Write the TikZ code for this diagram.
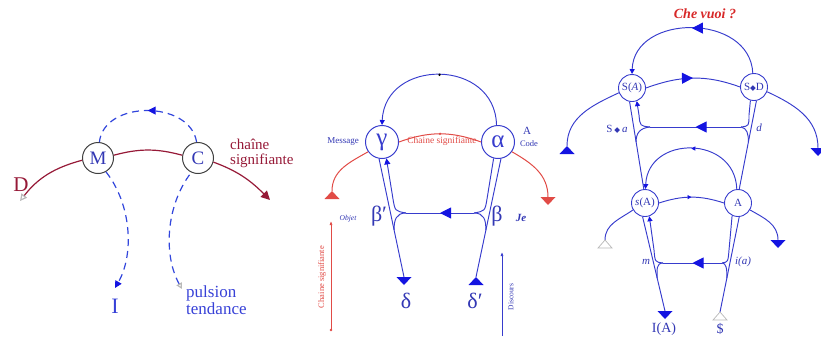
\documentclass[tikz,border=0pt]{standalone}
\usepackage{fontspec}
\setmainfont{Liberation Serif}
\newfontfamily\dejavu{DejaVu Sans}
\usetikzlibrary{arrows.meta,decorations.markings}
\definecolor{blu}{RGB}{55,60,205}
\definecolor{bluf}{RGB}{20,20,225}
\definecolor{btxt}{RGB}{50,55,180}
\definecolor{ptxt}{RGB}{55,65,215}
\definecolor{pblu}{RGB}{50,70,220}
\definecolor{dred}{RGB}{150,25,55}
\definecolor{lred}{RGB}{225,75,70}
\definecolor{cred}{RGB}{215,40,40}
\newcommand{\fs}[1]{\fontsize{#1}{#1}\selectfont}
\newcommand{\dmd}{{\dejavu\fontsize{7.5}{7.5}\selectfont ◆}}
\begin{document}
\begin{tikzpicture}[x=1pt,y=-1pt,
  c1/.style={circle,draw=black!75,line width=1pt,minimum size=31pt,inner sep=0pt,text=btxt,font=\fs{19}},
  c2/.style={circle,draw=blu,line width=1pt,minimum size=33pt,inner sep=0pt,text=blu,font=\fs{25}},
  c3/.style={circle,draw=blu,line width=0.9pt,minimum size=27pt,inner sep=0pt,text=btxt,font=\fs{11}},
  bl/.style={draw=blu,line width=0.95pt},
  pd/.style={draw=pblu,line width=1.2pt,dash pattern=on 7pt off 5pt},
  lbl/.style={text=btxt,inner sep=0pt},
  marr/.style={postaction={decorate},decoration={markings,mark=at position 0.5 with {\arrow{Triangle[length=#1,width=#1,color=bluf]}}}},
  dotm/.style={postaction={decorate},decoration={markings,mark=at position 0.5 with {\fill (0,0) circle (1.3pt);}}},
  dnTri/.pic={\fill (-7.5,0) -- (7.5,0) -- (0,8) -- cycle;},
  upTri/.pic={\fill (-7.5,8) -- (7.5,8) -- (0,0) -- cycle;},
  openUp/.pic={\filldraw[fill=white,draw=gray!55,line width=0.7pt] (-7,8) -- (7,8) -- (0,0) -- cycle;},
]
\useasboundingbox (0,0) rectangle (821,338);

% ---------------- Panel 1 ----------------
\node[c1] (M) at (98,158) {M};
\node[c1] (C) at (198,158) {C};
\coordinate (D0) at (20,201);
\coordinate (C1) at (270,200);
\coordinate (I0) at (115,288);
\coordinate (T0) at (182,289);
\draw[dred,line width=1.2pt,{Triangle[open,length=7pt,width=7pt,color=gray!55]}-] (D0) to[out=52,in=195] (M.188);
\draw[dred,line width=1.2pt] (M.10) to[out=15,in=165] (C.170);
\draw[dred,line width=1.2pt,-{Triangle[length=9pt,width=9pt]}] (C.-15) to[out=-20,in=135] (C1);
\draw[pd,marr=8pt] (C.95) .. controls (190,100) and (104,100) .. (M.85);
\draw[pd,-{Triangle[length=7pt,width=7pt,color=bluf]}] (M.-60) .. controls (132,205) and (134,255) .. (I0);
\draw[pd,{Triangle[open,length=6pt,width=6pt,color=gray!55]}-] (T0) .. controls (163,255) and (166,205) .. (C.-115);
\node[text=dred,font=\fs{21},inner sep=0pt] (Dl) at (21,185) {D};
\node[text=dred,font=\fs{15},align=left,anchor=north west,inner sep=0pt] (cs1) at (230,139) {\baselineskip=14pt chaîne\\signifiante};
\node[text=ptxt,font=\fs{22},inner sep=0pt] (Il) at (115,306) {I};
\node[text=ptxt,font=\fs{17},align=left,anchor=north west,inner sep=0pt] (pt) at (186,285) {\baselineskip=16pt pulsion\\tendance};

% ---------------- Panel 2 ----------------
\node[c2] (g) at (382,142) {γ};
\node[c2] (a) at (498,142) {α};
\draw[bl,dotm,-{Triangle[length=5pt,width=5pt,color=bluf]}] (a.95) .. controls (495,58) and (385,58) .. (g.90);
\draw[lred,line width=1pt,dotm] (g.east) to[out=20,in=160] (a.west);
\node[text=lred,font=\fs{9.5},inner sep=0pt] (cs2) at (442,141) {Chaine signifiante};
\draw[lred,line width=1pt] (g.215) to[out=210,in=90] (332,191);
\pic[fill=lred] at (332,191) {upTri};
\draw[lred,line width=1pt] (a.-35) to[out=-30,in=90] (548,197);
\pic[fill=lred] at (548,197) {dnTri};
\node[lbl,font=\fs{9}] (msg) at (343,142) {Message};
\node[lbl,font=\fs{11}] (Al) at (527,131) {A};
\node[lbl,font=\fs{8.5}] (code) at (529,144) {Code};
% vectors
\coordinate (dl) at (404,277);
\coordinate (dr) at (476,277);
\draw[bl] (g.-100) -- (dl);
\pic[fill=bluf] at (dl) {dnTri};
\draw[bl] (a.-80) -- (dr);
\pic[fill=bluf] at (dr) {upTri};
\draw[bl,marr=11pt] (474,213) -- (406,213);
\draw[bl,-{Triangle[length=6pt,width=6pt,color=bluf]}] (406,213) .. controls (395,211) .. (393,199) -- (g.-75);
\draw[bl] (406,213) .. controls (396,213) and (394,220) .. (394.1,230);
\draw[bl] (474,213) .. controls (485,211) .. (487,199) -- (a.-105);
\draw[bl] (474,213) .. controls (484,213) and (486,220) .. (485.8,230);
\node[lbl,font=\fs{22}] (bp) at (379,216) {β′};
\node[lbl,font=\fs{7.5}\itshape] (obj) at (348,219) {Objet};
\node[lbl,font=\fs{22}] (b) at (497,216) {β};
\node[lbl,font=\fs{11}\bfseries\itshape] (je) at (521,218) {Je};
\node[lbl,font=\fs{22}] (dlt) at (406,301) {δ};
\node[lbl,font=\fs{22}] (dltp) at (475,301) {δ′};
\coordinate (rb) at (331,330);
\coordinate (rt) at (331,221);
\draw[lred,line width=0.7pt,-{Latex[length=4pt,width=3pt]}] (rb) -- (rt);
\fill[lred] (rb) circle (1.3pt);
\node[rotate=90,text=lred,font=\fs{8.5},inner sep=0pt] (csv) at (322,277) {Chaine signifiante};
\coordinate (bb) at (502,336);
\coordinate (bt) at (502,252);
\draw[blu,line width=0.7pt,-{Latex[length=4pt,width=3pt]}] (bb) -- (bt);
\node[rotate=90,lbl,font=\fs{7.5}] (disc) at (511,297) {Discours};

% ---------------- Panel 3 ----------------
\node[c3] (SA) at (632,88) {S(\textit{A})};
\node[c3] (SD) at (754,87) {S\dmd D};
\node[c3] (sA) at (645,203) {\textit{s}(A)};
\node[c3] (A) at (738,203) {A};
\node[text=cred,font=\fs{14}\bfseries\itshape,inner sep=0pt] (che) at (705,14) {Che vuoi ?};
\draw[bl,marr=11pt,-{Triangle[length=5pt,width=5pt,color=bluf]}] (SD.95) .. controls (750,13) and (634,13) .. (SA.90);
\draw[bl,marr=11pt] (SA.east) to[out=20,in=160] (SD.west);
\draw[bl] (SA.200) to[out=205,in=90] (567,146);
\pic[fill=bluf] at (567,146) {upTri};
\draw[bl] (SD.-20) to[out=-25,in=90] (818,148);
\pic[fill=bluf] at (818,148) {dnTri};
\draw[bl,marr=4pt,-{Triangle[length=5pt,width=5pt,color=bluf]}] (A.95) .. controls (735,135) and (648,135) .. (sA.88);
\draw[bl,marr=4pt] (sA.east) to[out=18,in=162] (A.west);
\draw[bl] (sA.210) to[out=215,in=90] (605,240);
\pic at (605,240) {openUp};
\draw[bl] (A.-30) to[out=-30,in=90] (778,240);
\pic[fill=bluf] at (778,240) {dnTri};
% upper vectors
\draw[bl] (SA.-100) -- (sA.95);
\draw[bl] (SD.-80) -- (A.85);
\draw[bl,marr=11pt] (741,127) -- (650,127);
\draw[bl,-{Triangle[length=5pt,width=5pt,color=bluf]}] (650,127) .. controls (640,126) .. (639,115) -- (SA.-70);
\draw[bl] (650,127) .. controls (640,128) and (636,133) .. (636.1,142);
\draw[bl] (741,127) .. controls (749,126) .. (749,115) -- (SD.-105);
\draw[bl] (741,127) .. controls (747,128) and (748.5,134) .. (748.4,142);
\node[lbl,font=\fs{11}] (sa) at (617,129) {S\,\dmd\,\textit{a}};
\node[lbl,font=\fs{11}\itshape] (dd) at (759,128) {d};
% lower vectors
\coordinate (IA) at (665,311);
\coordinate (Sb) at (720,312);
\draw[bl] (sA.-100) -- (IA);
\pic[fill=bluf] at (IA) {dnTri};
\draw[bl] (A.-85) -- (Sb);
\pic at (Sb) {openUp};
\draw[bl,marr=11pt] (722,263) -- (663,263);
\draw[bl,-{Triangle[length=5pt,width=5pt,color=bluf]}] (663,263) .. controls (655,262) .. (654,250) -- (sA.-72);
\draw[bl] (663,263) .. controls (656,263) and (657,270) .. (657.2,278);
\draw[bl] (722,263) .. controls (728,262) .. (729,250) -- (A.-115);
\draw[bl] (722,263) .. controls (726,263) and (727,268) .. (726.9,278);
\node[lbl,font=\fs{11}\itshape] (ml) at (646,262) {m};
\node[lbl,font=\fs{11}\itshape] (ial) at (743,262) {i(a)};
\node[lbl,font=\fs{14}] (IAl) at (664,329) {I(A)};
\node[lbl,font=\fs{14}] (Sl) at (720,329) {\$};
\end{tikzpicture}
\end{document}
